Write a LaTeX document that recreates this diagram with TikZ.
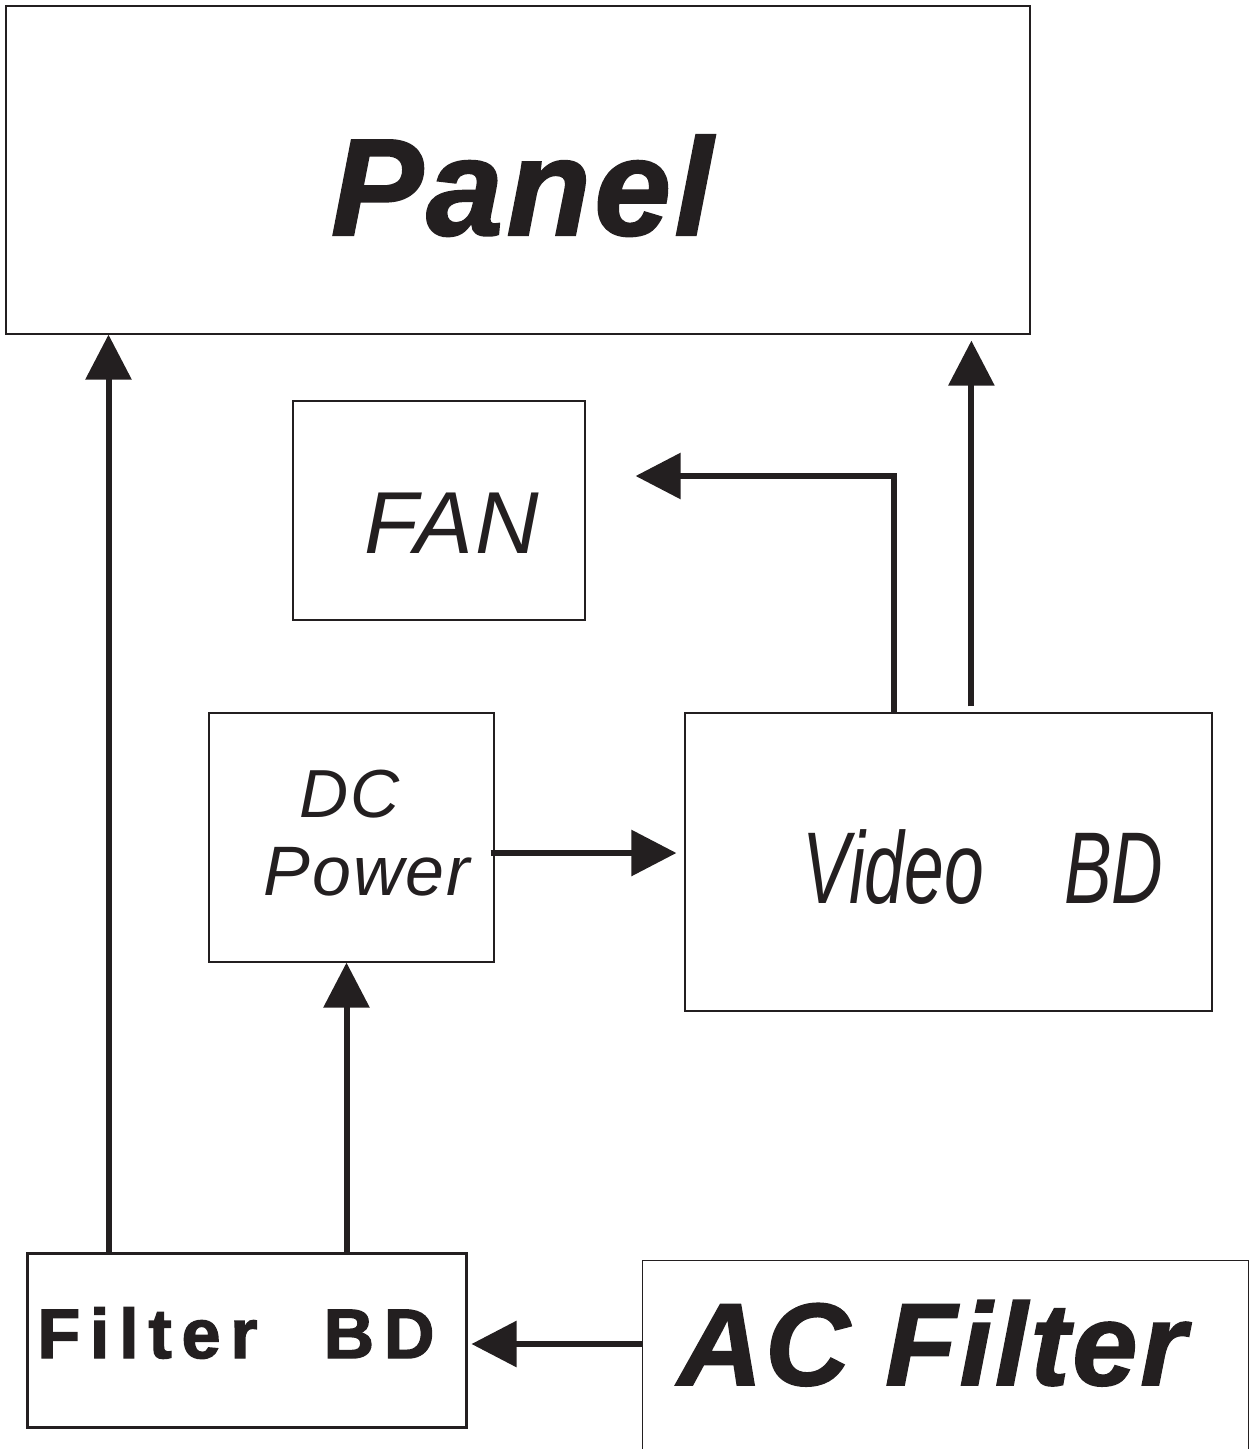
\documentclass[tikz,border=0pt]{standalone}
\usepackage{fontspec}
\setmainfont{Liberation Sans}
\newfontfamily\heavyfont[FakeBold=1.5, LetterSpace=2.5]{Liberation Sans}
\newfontfamily\filterfont[FakeBold=2, LetterSpace=14]{Liberation Sans}
\newfontfamily\condfont[FakeStretch=0.7]{Liberation Sans}
\newfontfamily\plainfont[LetterSpace=3]{Liberation Sans}
\usetikzlibrary{arrows.meta,calc}
\definecolor{ink}{HTML}{231F20}
\tikzset{
  box/.style={draw=ink, line width=1.2pt, inner sep=0pt},
  thickbox/.style={draw=ink, line width=3pt, inner sep=0pt},
  label/.style={inner sep=0pt, anchor=base, text=ink},
  arr/.style={draw=ink, line width=6pt, line join=miter,
    -{Triangle[length=45pt,width=45pt]}, ink},
}
\begin{document}
\begin{tikzpicture}[x=1pt,y=-1pt]
\useasboundingbox (0,0) rectangle (1254,1449);
% boxes
\node[box, minimum width=1024pt, minimum height=328pt] (panel) at (518,170) {};
\node[box, minimum width=292pt, minimum height=219pt] (fan) at (439,510.5) {};
\node[box, minimum width=285pt, minimum height=249pt] (dc) at (351.5,837.5) {};
\node[box, minimum width=527pt, minimum height=298pt] (video) at (948.5,862) {};
\node[thickbox, minimum width=439pt, minimum height=174pt] (filter) at (246.5,1340) {};
\node[inner sep=0pt, minimum width=605pt, minimum height=190pt] (ac) at (945.5,1356) {};
\draw[ink, line width=1.2pt] (ac.south west) -- (ac.north west) -- (ac.north east) -- (ac.south east);
% texts
\node[label] (panelT) at (522,235) {\heavyfont\bfseries\itshape\fontsize{138}{138}\selectfont Panel};
\node[label] (fanT) at (452,553) {\plainfont\itshape\fontsize{88}{88}\selectfont FAN};
\node[label] (dcT) at (350,817) {\plainfont\itshape\fontsize{68}{68}\selectfont DC};
\node[label] (powerT) at (367,895) {\plainfont\itshape\fontsize{70}{70}\selectfont Power};
\node[label] (videoT) at (983,903) {\condfont\itshape\fontsize{102}{102}\selectfont Video\hspace{80pt}BD};
\node[label] (filterT) at (236,1358) {\filterfont\bfseries\fontsize{70}{70}\selectfont Filter\hspace{66pt}BD};
\node[label] (acT) at (932,1385) {\heavyfont\bfseries\itshape\fontsize{117}{117}\selectfont AC Filter};
% connectors
\draw[arr] ([xshift=83pt]filter.north west) -- ([xshift=83pt]filter.north west |- panel.south);
\draw[arr] ([xshift=321pt]filter.north west) -- ([xshift=321pt]filter.north west |- dc.south);
\draw[arr, shorten >=4pt] ([yshift=12pt]ac.west) -- ([yshift=12pt]ac.west -| filter.east);
\draw[arr, shorten <=-4pt, shorten >=8pt] ([yshift=-15.5pt]dc.east) -- ([yshift=-15.5pt]dc.east -| video.west);
\draw[arr, shorten <=6pt, shorten >=6pt] ([xshift=287pt]video.north west) -- ([xshift=287pt]video.north west |- panel.south);
\draw[arr, shorten >=50pt] ([xshift=210pt]video.north west) |- ([yshift=34.5pt]fan.east);
\end{tikzpicture}
\end{document}
